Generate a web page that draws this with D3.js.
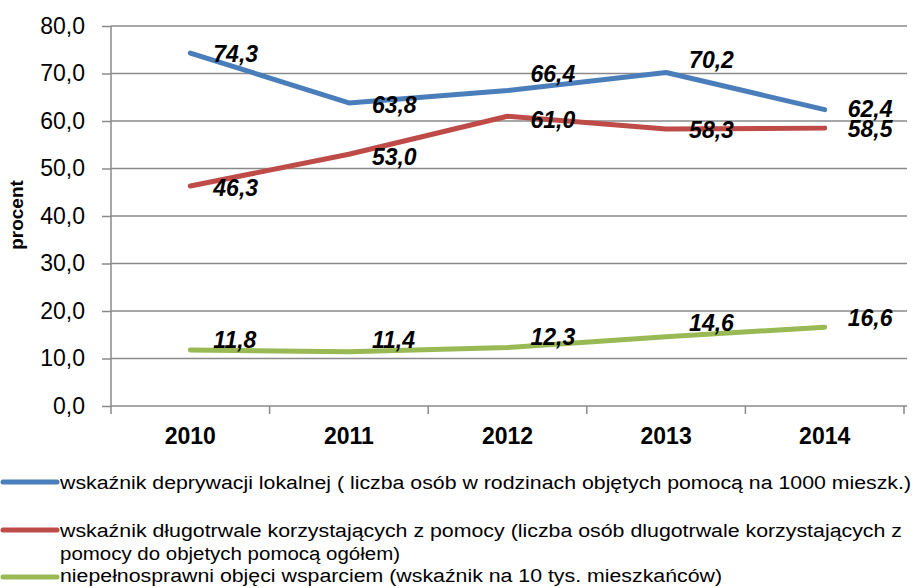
<!DOCTYPE html>
<html><head><meta charset="utf-8">
<script src="https://cdn.jsdelivr.net/npm/d3@7"></script>
<style>body{margin:0;background:#fff}svg{display:block}text{font-family:"Liberation Sans",Arial,sans-serif}</style>
</head><body><svg id="c" width="916" height="588"></svg>
<script>
const years = ["2010","2011","2012","2013","2014"];
const deprywacja = [74.3, 63.8, 66.4, 70.2, 62.4];
const dlugotrwale = [46.3, 53.0, 61.0, 58.3, 58.5];
const niepelnosprawni = [11.8, 11.4, 12.3, 14.6, 16.6];
const yTicks = [0,10,20,30,40,50,60,70,80];
const seriesNames = [
  ["wskaźnik deprywacji lokalnej ( liczba osób w rodzinach objętych pomocą na 1000 mieszk.)"],
  ["wskaźnik długotrwale korzystających z pomocy (liczba osób dlugotrwale korzystających z","pomocy do objetych pomocą ogółem)"],
  ["niepełnosprawni objęci wsparciem (wskaźnik na 10 tys. mieszkańców)"]
];

const colors = ["#4a7ebb","#be4b48","#98b954"];
// per-label vertical nudges (layout only)
const labelDy = [[1,2,-17,-13,-1],[2,2,3,1,1],[-10,-12,-11,-14,-9]];
const series = [deprywacja, dlugotrwale, niepelnosprawni];

const svg = d3.select("#c");
const L=111, R=904, T=26, B=406;
const x = d3.scaleBand().domain(years).range([L,R]);
const y = d3.scaleLinear().domain([0,80]).range([B,T]);
const fmt = v => d3.format(".1f")(v).replace(".",",");
const FF = "Liberation Sans, Arial, sans-serif";

// gridlines
svg.append("g").selectAll("line").data(yTicks.slice(1)).join("line")
  .attr("x1",L).attr("x2",R+3).attr("y1",d=>y(d)).attr("y2",d=>y(d))
  .attr("stroke","#8a8a8a").attr("stroke-width",1.5);

// y axis
const ya = svg.append("g").attr("transform",`translate(${L},0)`)
  .call(d3.axisLeft(y).tickValues(yTicks).tickSize(9).tickPadding(17).tickFormat(fmt));
ya.select(".domain").attr("stroke","#8a8a8a").attr("stroke-width",1.5).attr("d",`M0,${T}V${B}`);
ya.selectAll(".tick line").attr("stroke","#8a8a8a").attr("stroke-width",1.5);
ya.selectAll("text").attr("font-size",23).attr("fill","#000").attr("font-family",FF);

// x axis
const xa = svg.append("g").attr("transform",`translate(0,${B})`)
  .call(d3.axisBottom(x).tickSize(0).tickPadding(22));
xa.select(".domain").attr("stroke","#8a8a8a").attr("stroke-width",1.5).attr("d",`M${L},0H${R+3}`);
xa.selectAll("text").attr("font-size",23).attr("font-weight","bold").attr("fill","#000").attr("font-family",FF);
const bounds = [L, ...years.map(d=>x(d)+x.bandwidth())];
xa.append("g").selectAll("line").data(bounds).join("line")
  .attr("x1",d=>d).attr("x2",d=>d).attr("y1",0).attr("y2",8)
  .attr("stroke","#8a8a8a").attr("stroke-width",1.5);

// y title
svg.append("text").attr("transform","translate(23,215) rotate(-90)")
  .attr("text-anchor","middle").attr("font-size",19).attr("font-weight","bold").text("procent");

const cx = d => x(d)+x.bandwidth()/2;
const line = d3.line().x((d,i)=>cx(years[i])).y(d=>y(d));
series.forEach((s,k)=>{
  svg.append("path").datum(s).attr("d",line).attr("fill","none")
    .attr("stroke",colors[k]).attr("stroke-width",5).attr("stroke-linecap","round").attr("stroke-linejoin","round");
});
series.forEach((s,k)=>{
  svg.append("g").selectAll("text").data(s).join("text")
    .attr("x",(d,i)=>cx(years[i])+23).attr("y",(d,i)=>y(d)+labelDy[k][i]).attr("dy","0.36em")
    .attr("font-size",23).attr("font-weight","bold").attr("font-style","italic").text(d=>fmt(d));
});

// legend
const swY = [482, 530, 577];
const legLines = [[489,911],[537,902],[560,400],[582,722]];
let li = 0;
seriesNames.forEach((lines,k)=>{
  svg.append("line").attr("x1",3).attr("x2",57).attr("y1",swY[k]).attr("y2",swY[k])
    .attr("stroke",colors[k]).attr("stroke-width",5).attr("stroke-linecap","round");
  lines.forEach((t,j)=>{
    const [by, endX] = legLines[li++];
    svg.append("text").attr("x",60).attr("y",by)
      .attr("font-size",18).text(t)
      .attr("textLength",endX-60).attr("lengthAdjust","spacingAndGlyphs");
  });
});
</script></body></html>
